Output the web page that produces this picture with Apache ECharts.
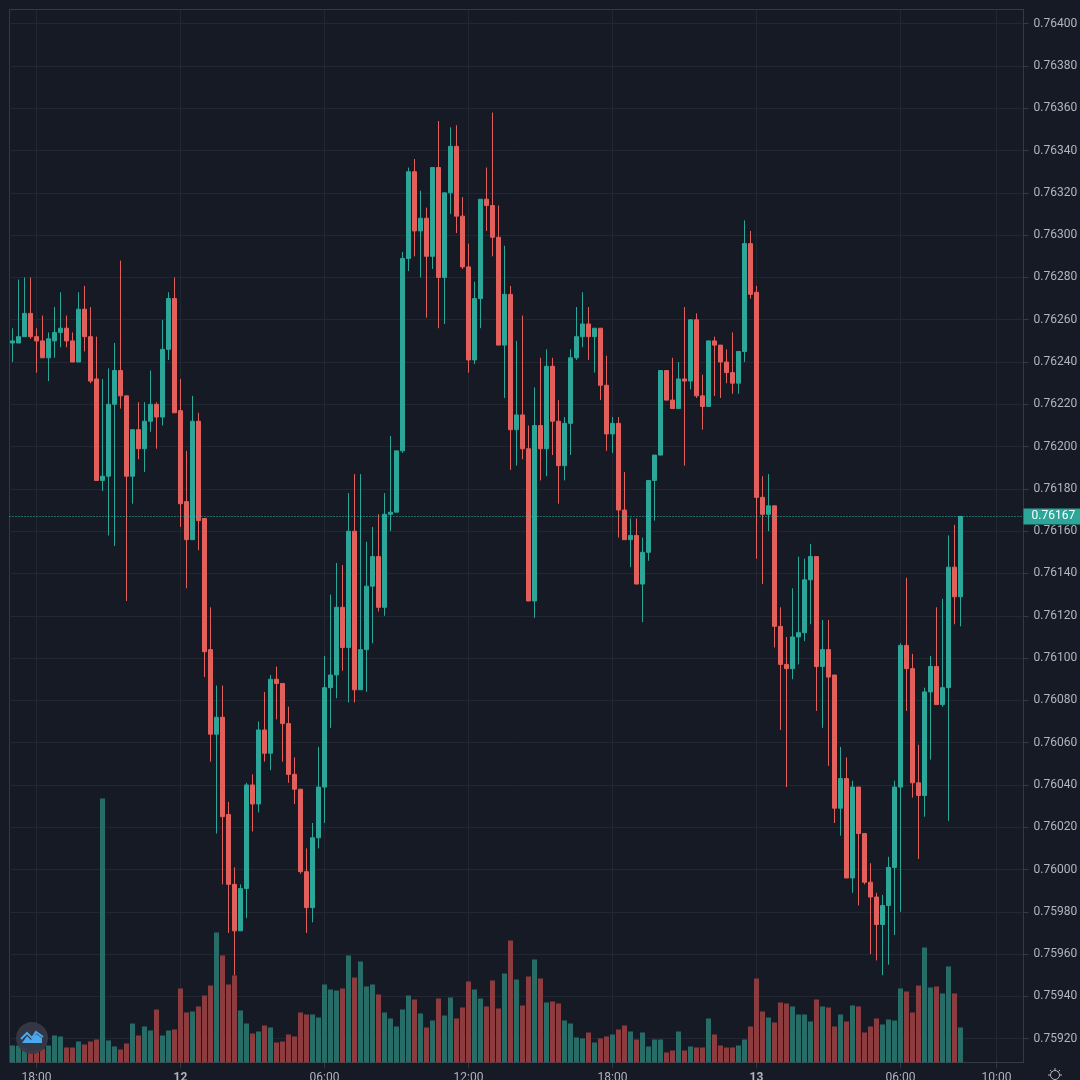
<!DOCTYPE html>
<html>
<head>
<meta charset="utf-8">
<style>html,body{margin:0;padding:0;background:#161a25}#c{width:1080px;height:1080px}</style>
<script src="https://cdn.jsdelivr.net/npm/echarts@6/dist/echarts.min.js"></script>
</head>
<body>
<div id="c"></div>
<script>
// Prices are in units of 0.00001
const opens = [
76249,76249,76252,76263,76252,76250,76242,76250,76254,76256,
76250,76240,76265,76252,76232,76184,76186,76220,76236,76224,
76186,76208,76199,76212,76220,76214,76246,76270,76217,76174,
76156,76212,76166,76104,76064,76072,76026,75993,75971,75991,
76040,76031,76066,76055,76090,76088,76069,76045,76038,75999,
75982,76015,76039,76086,76092,76124,76105,76160,76085,76104,
76134,76148,76124,76168,76169,76198,76289,76330,76302,76308,
76290,76332,76280,76320,76342,76309,76285,76241,76270,76317,
76314,76299,76248,76272,76208,76215,76199,76127,76210,76199,
76238,76212,76191,76211,76242,76252,76258,76252,76256,76229,
76206,76211,76170,76156,76158,76135,76150,76184,76196,76236,
76222,76218,76232,76231,76260,76224,76219,76250,76248,76240,
76235,76230,76245,76296,76273,76176,76168,76172,76115,76097,
76095,76110,76112,76137,76148,76096,76104,76092,76029,76043,
75996,76039,76017,75994,75987,75974,75983,76001,76039,76106,
76095,76041,76035,76084,76096,76078,76086,76143,76129];
const closes = [
76250,76252,76263,76252,76250,76242,76251,76254,76256,76250,
76240,76265,76252,76231,76184,76186,76220,76236,76224,76186,
76208,76199,76212,76220,76214,76246,76270,76216,76173,76156,
76212,76165,76103,76064,76072,76025,75993,75971,75991,76040,
76031,76066,76055,76090,76088,76069,76045,76038,75999,75982,
76015,76039,76086,76092,76124,76105,76160,76085,76104,76134,
76148,76124,76168,76169,76198,76289,76330,76302,76308,76290,
76332,76280,76320,76342,76309,76285,76241,76270,76317,76314,
76299,76248,76272,76208,76215,76199,76127,76210,76199,76238,
76212,76191,76211,76242,76252,76258,76252,76256,76229,76206,
76211,76170,76156,76158,76135,76150,76184,76196,76236,76222,
76218,76232,76231,76260,76224,76219,76250,76248,76240,76235,
76230,76245,76296,76272,76176,76168,76172,76115,76097,76095,
76110,76112,76137,76148,76096,76104,76091,76029,76043,75996,
76039,76017,75994,75987,75974,75983,76001,76039,76106,76095,
76041,76035,76084,76096,76078,76086,76143,76129,76167];
const lows = [
76240,76249,76252,76251,76235,76242,76231,76242,76247,76247,
76240,76240,76245,76230,76184,76179,76158,76153,76218,76127,
76173,76194,76188,76207,76199,76210,76241,76216,76162,76133,
76156,76151,76091,76051,76017,75993,75970,75950,75971,75977,
76018,76027,76051,76047,76071,76051,76041,76031,75998,75970,
75975,76010,76022,76067,76081,76094,76079,76079,76085,76084,
76107,76122,76120,76160,76169,76197,76283,76290,76280,76261,
76284,76256,76258,76310,76301,76284,76235,76239,76256,76302,
76290,76248,76223,76189,76191,76194,76127,76119,76184,76186,
76196,76173,76184,76196,76241,76247,76241,76235,76222,76198,
76197,76157,76156,76143,76135,76117,76146,76165,76196,76222,
76218,76218,76191,76227,76223,76208,76219,76224,76223,76230,
76225,76225,76240,76270,76147,76135,76160,76105,76066,76039,
76090,76097,76108,76116,76075,76067,76049,76022,76016,75996,
75989,75983,75993,75960,75957,75950,75955,75969,75980,76075,
76034,76005,76025,76052,76078,76077,76023,76116,76115];
const highs = [
76256,76279,76280,76280,76256,76262,76254,76266,76273,76262,
76254,76273,76276,76266,76252,76232,76237,76249,76288,76224,
76208,76221,76221,76236,76221,76260,76273,76280,76232,76198,
76224,76216,76166,76124,76087,76087,76032,76001,75993,76041,
76045,76070,76084,76092,76096,76088,76077,76053,76038,76010,
76022,76058,76101,76130,76145,76144,76178,76187,76187,76155,
76162,76168,76178,76205,76198,76292,76332,76336,76321,76313,
76332,76354,76320,76351,76352,76318,76296,76278,76317,76332,
76358,76314,76295,76276,76250,76262,76210,76228,76242,76246,
76242,76222,76214,76246,76266,76273,76266,76256,76256,76243,
76214,76214,76188,76166,76166,76157,76184,76196,76236,76236,
76242,76240,76266,76260,76263,76234,76250,76252,76248,76246,
76254,76245,76307,76302,76276,76186,76187,76172,76124,76110,
76133,76148,76147,76154,76148,76118,76118,76092,76058,76053,
76042,76039,76017,76003,75989,75988,76006,76042,76107,76138,
76102,76059,76086,76101,76124,76128,76158,76163,76167];
const volumes = [
17,17,15,12,12,14,17,27,26,15,
15,21,18,21,23,264,22,16,13,19,
39,27,36,32,53,27,32,33,74,50,
51,56,67,77,130,107,78,87,52,39,
29,31,37,35,20,21,28,26,50,48,
48,45,78,73,72,74,107,85,101,76,
78,68,50,44,36,53,67,63,49,35,
42,64,47,65,44,55,81,73,64,56,
82,54,89,122,83,57,86,103,84,60,
61,59,42,39,25,24,30,20,24,26,
28,33,37,31,23,30,16,23,23,10,
12,31,12,16,15,15,44,28,17,15,
15,17,23,36,84,51,45,40,60,59,
56,48,48,41,63,56,55,36,48,41,
57,56,30,36,44,38,43,42,74,71,
50,77,115,75,76,69,96,69,35];
const priceTicks = [76400,76380,76360,76340,76320,76300,76280,76260,76240,76220,76200,76180,76160,76140,76120,76100,76080,76060,76040,76020,76000,75980,75960,75940,75920];
const lastPrice = 76167;
const tickCategories = ['11 18:00','12 00:00','12 06:00','12 12:00','12 18:00','13 00:00','13 06:00','13 10:00'];
const tickLabels = ['18:00','12','06:00','12:00','18:00','13','06:00','10:00'];
const boldLabels = ['12','13'];

// 15-minute slots starting on the 11th at 17:00, with empty room right of the last candle
const categories = [];
for (let i = 0; i < 169; i++) {
  const m = 17 * 60 + 15 * i;
  const d = 11 + Math.floor(m / 1440);
  const mm = m % 1440;
  categories.push(d + ' ' + String(Math.floor(mm / 60)).padStart(2, '0') + ':' + String(mm % 60).padStart(2, '0'));
}

const UP = '#2ba699', DOWN = '#e35f5b', VUP = '#286c68', VDOWN = '#8c3c3e';
const GRID = '#232732', BORDER = '#363a45', TEXT = '#b2b5be';
const FONT = 'Roboto';

const isTick = (i, v) => tickCategories.includes(v);
const chart = echarts.init(document.getElementById('c'), null, {renderer: 'canvas'});
chart.setOption({
  animation: false,
  backgroundColor: '#161a25',
  grid: {left: 9.5, right: 56.5, top: 9.5, bottom: 17.5, show: true, borderColor: BORDER, borderWidth: 1, containLabel: false, outerBoundsMode: 'none'},
  xAxis: {
    type: 'category', data: categories, boundaryGap: true,
    axisLine: {show: true, lineStyle: {color: BORDER}},
    axisTick: {show: true, length: 5, alignWithLabel: true, interval: isTick, lineStyle: {color: BORDER}},
    splitLine: {show: true, alignWithLabel: true, interval: isTick, lineStyle: {color: GRID}},
    axisLabel: {
      interval: isTick, margin: 9, color: TEXT, fontFamily: FONT, fontSize: 12, hideOverlap: false,
      formatter: v => {
        const t = tickLabels[tickCategories.indexOf(v)];
        return boldLabels.includes(t) ? '{b|' + t + '}' : t;
      },
      rich: {b: {fontWeight: 'bold', color: TEXT, fontFamily: FONT, fontSize: 12}}
    }
  },
  yAxis: [{
    type: 'value', position: 'right', scale: true, min: 75908.74, max: 76406.72,
    axisLine: {show: true, lineStyle: {color: BORDER}},
    axisTick: {show: true, length: 5, customValues: priceTicks, lineStyle: {color: BORDER}},
    splitLine: {show: true, customValues: priceTicks, lineStyle: {color: GRID}},
    axisLabel: {customValues: priceTicks, margin: 10, color: TEXT, fontFamily: FONT, fontSize: 12,
      formatter: v => (v / 100000).toFixed(5)}
  }, {
    type: 'value', min: 0, max: 1053, show: false, splitLine: {show: false}
  }],
  series: [{
    type: 'bar', yAxisIndex: 1, barWidth: 5, z: 2,
    data: volumes.map((v, i) => ({value: v, itemStyle: {color: closes[i] >= opens[i] ? VUP : VDOWN}}))
  }, {
    type: 'candlestick', yAxisIndex: 0, barWidth: 4, z: 3,
    data: opens.map((o, i) => [o, closes[i], lows[i], highs[i]]),
    itemStyle: {color: UP, color0: DOWN, borderColor: UP, borderColor0: DOWN, borderWidth: 1},
    markLine: {
      silent: true, symbol: 'none', animation: false,
      lineStyle: {color: '#30b8aa', type: [1, 2], width: 1},
      label: {show: true, position: 'end', distance: 0, formatter: () => (lastPrice / 100000).toFixed(5),
        backgroundColor: UP, color: '#ffffff', fontFamily: FONT, fontSize: 12, padding: [2, 5, 2, 8]},
      data: [{yAxis: lastPrice}]
    }
  }],
  graphic: [
    {type: 'circle', shape: {cx: 32, cy: 1038, r: 16}, style: {fill: 'rgba(54,58,69,0.92)'}, z: 100},
    {type: 'polygon', shape: {points: [[22,1043],[27,1036],[31,1040],[36,1034],[42,1038],[42,1043]]}, style: {fill: '#4aa8ee'}, z: 101},
    {type: 'polyline', shape: {points: [[21,1039],[27,1033],[32,1038],[36,1032],[43,1037]]}, style: {fill: 'none', stroke: '#4aa8ee', lineWidth: 2}, z: 101},
    {type: 'circle', shape: {cx: 1055, cy: 1075, r: 4.5}, style: {fill: 'none', stroke: TEXT, lineWidth: 1}, z: 100},
    {type: 'line', shape: {x1: 1055, y1: 1068, x2: 1055, y2: 1070}, style: {stroke: TEXT}, z: 100},
    {type: 'line', shape: {x1: 1048, y1: 1075, x2: 1050, y2: 1075}, style: {stroke: TEXT}, z: 100},
    {type: 'line', shape: {x1: 1060, y1: 1075, x2: 1062, y2: 1075}, style: {stroke: TEXT}, z: 100},
    {type: 'line', shape: {x1: 1050, y1: 1070, x2: 1051.5, y2: 1071.5}, style: {stroke: TEXT}, z: 100},
    {type: 'line', shape: {x1: 1060, y1: 1070, x2: 1058.5, y2: 1071.5}, style: {stroke: TEXT}, z: 100}
  ]
});
</script>
</body>
</html>
